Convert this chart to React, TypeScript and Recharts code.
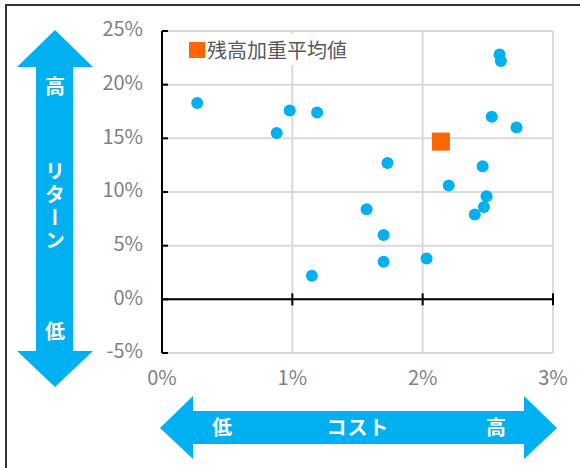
import React from 'react';
import {
  ScatterChart, Scatter, XAxis, YAxis, CartesianGrid, ReferenceLine, Legend,
} from 'recharts';

// コスト (%)
const costs = [2.59, 2.6, 0.27, 0.98, 1.19, 0.88, 2.53, 2.72, 1.73, 2.46, 2.2, 2.49, 2.47, 2.4, 1.57, 1.7, 1.7, 2.03, 1.15];
// リターン (%)
const returns = [22.8, 22.2, 18.3, 17.6, 17.4, 15.5, 17.0, 16.0, 12.7, 12.4, 10.6, 9.6, 8.6, 7.9, 8.4, 6.0, 3.5, 3.8, 2.2];
// 残高加重平均値
const avgCost = [2.14];
const avgReturn = [14.7];

const xTicks = [0, 1, 2, 3];
const yTicks = [-5, 0, 5, 10, 15, 20, 25];
const legendLabel = '残高加重平均値';

const fundData = costs.map((c, i) => ({ x: c, y: returns[i] }));
const avgData = avgCost.map((c, i) => ({ x: c, y: avgReturn[i] }));

const BLUE = '#00B0F0';
const ORANGE = '#FF6600';
const FONT = '"Noto Sans CJK JP", "Noto Sans", sans-serif';

const YTick = (props: any) => {
  const { x, y, payload } = props;
  return (
    <g>
      <line x1={x + 19} y1={y} x2={x + 25} y2={y} stroke="#000" strokeWidth={2} />
      <text x={x} y={y - 2} dy="0.36em" textAnchor="end" fill="#7F7F7F" fontSize={20} fontFamily={FONT}>
        {`${payload.value}%`}
      </text>
    </g>
  );
};

const LegendContent = () => (
  <div style={{ background: '#fff', display: 'flex', alignItems: 'center', padding: '2px 4px 2px 9px', height: 27, fontFamily: FONT }}>
    <span style={{ display: 'inline-block', width: 16, height: 16, background: ORANGE, marginRight: 2 }} />
    <span style={{ fontSize: 20, color: '#595959', lineHeight: '27px' }}>{legendLabel}</span>
  </div>
);

const Arrows = () => (
  <svg width={580} height={468} style={{ position: 'absolute', left: 0, top: 0, pointerEvents: 'none' }}>
    <polygon
      points="55,30 93,67 73,67 73,351 93,351 55,387 17,351 36,351 36,67 17,67"
      fill={BLUE}
    />
    <polygon
      points="160,428 193,396 193,411 524,411 524,396 557,428 524,459 524,444 193,444 193,459"
      fill={BLUE}
    />
    <g fill="#fff" fontFamily={FONT} fontSize={20} fontWeight={700} textAnchor="middle">
      <text x={55} y={87} dy="0.36em">高</text>
      <text x={55} y={207} style={{ writingMode: 'vertical-rl' } as any} letterSpacing={3}>リターン</text>
      <text x={55} y={332} dy="0.36em">低</text>
      <text x={222} y={428} dy="0.36em">低</text>
      <text x={358} y={428} dy="0.36em" letterSpacing={1}>コスト</text>
      <text x={496} y={428} dy="0.36em">高</text>
    </g>
  </svg>
);

export default function App() {
  return (
    <div style={{ position: 'absolute', left: 0, top: 0, width: 580, height: 468, background: '#fff', overflow: 'hidden' }}>
      <div style={{ position: 'absolute', left: 5, top: 4, width: 600, height: 500, borderLeft: '2px solid #333', borderTop: '2px solid #333' }} />
      <div style={{ position: 'absolute', left: 0, top: 0 }}>
        <ScatterChart width={580} height={468} margin={{ top: 31, right: 27, left: 102, bottom: 85 }}>
          <CartesianGrid stroke="#D9D9D9" strokeWidth={2} horizontalValues={yTicks} verticalValues={xTicks} />
          <XAxis
            type="number"
            dataKey="x"
            domain={[0, 3]}
            ticks={xTicks}
            height={30}
            axisLine={false}
            tickLine={false}
            tickSize={0}
            tickMargin={18}
            interval={0}
            tickFormatter={(v: number) => `${v}%`}
            tick={{ fill: '#7F7F7F', fontSize: 20, fontFamily: FONT }}
          />
          <YAxis
            type="number"
            dataKey="y"
            domain={[-5, 25]}
            ticks={yTicks}
            width={60}
            interval={0}
            axisLine={{ stroke: '#000', strokeWidth: 2 }}
            tickLine={false}
            tickSize={0}
            tickMargin={19}
            tick={<YTick />}
          />
          <ReferenceLine y={0} stroke="#000" strokeWidth={2} />
          {xTicks.slice(1).map((t) => (
            <ReferenceLine
              key={t}
              segment={[{ x: t, y: -0.56 }, { x: t, y: 0.56 }]}
              stroke="#000"
              strokeWidth={2}
            />
          ))}
          <Legend
            layout="vertical"
            align="center"
            verticalAlign="middle"
            content={<LegendContent />}
            wrapperStyle={{ left: 180, top: 34, width: 'auto', height: 'auto' }}
          />
          <Scatter
            name="fund"
            data={fundData}
            isAnimationActive={false}
            legendType="none"
            shape={(p: any) => <circle cx={p.cx} cy={p.cy} r={6} fill={BLUE} />}
          />
          <Scatter
            name={legendLabel}
            data={avgData}
            isAnimationActive={false}
            shape={(p: any) => <rect x={p.cx - 9} y={p.cy - 9} width={18} height={18} fill={ORANGE} />}
          />
        </ScatterChart>
      </div>
      <Arrows />
    </div>
  );
}
